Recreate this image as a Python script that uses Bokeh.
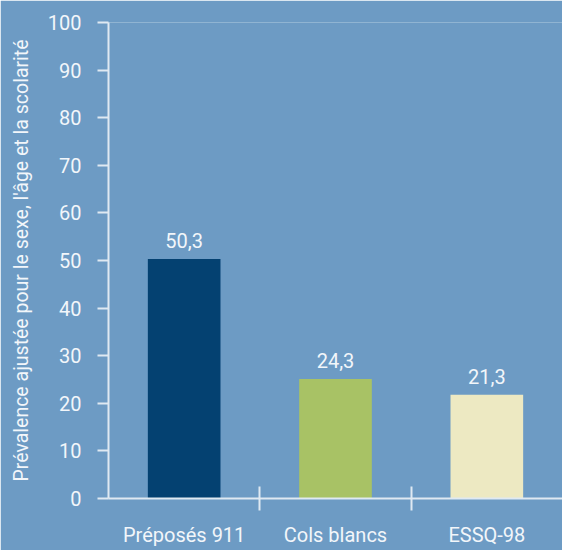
from bokeh.plotting import figure
from bokeh.models import FixedTicker, Range1d, ColumnDataSource
from bokeh.core.properties import value
from bokeh.embed import file_html
from bokeh.resources import INLINE

categories = ["Préposés 911", "Cols blancs", "ESSQ-98"]
heights = [50.3, 25.1, 21.8]
labels = ["50,3", "24,3", "21,3"]
colors = ["#044171", "#a8c265", "#ede9c2"]
y_ticks = [0, 10, 20, 30, 40, 50, 60, 70, 80, 90, 100]
y_title = "Prévalence ajustée pour le sexe, l'âge et la scolarité"

FONT = "Roboto"
BG = "#6d9bc4"
AX = "#dfe9f2"
TXT = "#f2f6fa"

xs = [i + 0.5 for i in range(len(categories))]
bounds = [float(i) for i in range(1, len(categories))]

src = ColumnDataSource(dict(x=xs, top=heights, lab=labels, color=colors))

p = figure(width=562, height=550, output_backend="svg", toolbar_location=None,
           x_range=Range1d(0, len(categories)), y_range=Range1d(0, 100),
           min_border_left=108, min_border_right=0, min_border_top=22,
           min_border_bottom=52)
p.background_fill_color = BG
p.border_fill_color = BG
p.outline_line_color = None
p.grid.visible = False

p.vbar(x="x", top="top", bottom=0, width=0.48, color="color", line_color=None, source=src)
p.text(x="x", y="top", text="lab", source=src, text_align="center", text_baseline="bottom",
       y_offset=-11, text_color=TXT, text_font=value(FONT), text_font_size="20px")

# y axis
ya = p.yaxis[0]
ya.ticker = FixedTicker(ticks=y_ticks)
ya.axis_line_color = AX
ya.axis_line_width = 2
ya.major_tick_line_color = AX
ya.major_tick_line_width = 2
ya.major_tick_out = 11
ya.major_tick_in = 0
ya.minor_tick_line_color = None
ya.major_label_standoff = 16
ya.major_label_text_color = TXT
ya.major_label_text_font = FONT
ya.major_label_text_font_size = "20px"
ya.axis_label = y_title
ya.axis_label_text_color = TXT
ya.axis_label_text_font = FONT
ya.axis_label_text_font_size = "19.5px"
ya.axis_label_text_font_style = "normal"
ya.axis_label_standoff = 12

# x axis
xa = p.xaxis[0]
xa.ticker = FixedTicker(ticks=xs, minor_ticks=bounds)
xa.major_label_overrides = {x: c for x, c in zip(xs, categories)}
xa.axis_line_color = AX
xa.axis_line_width = 2
xa.major_tick_line_color = None
xa.major_tick_out = 0
xa.major_tick_in = 0
xa.minor_tick_line_color = AX
xa.minor_tick_line_width = 2
xa.minor_tick_in = 12
xa.minor_tick_out = 12
xa.major_label_standoff = 12
xa.major_label_text_color = TXT
xa.major_label_text_font = FONT
xa.major_label_text_font_size = "20px"

open("out.html", "w").write(file_html(p, INLINE))
